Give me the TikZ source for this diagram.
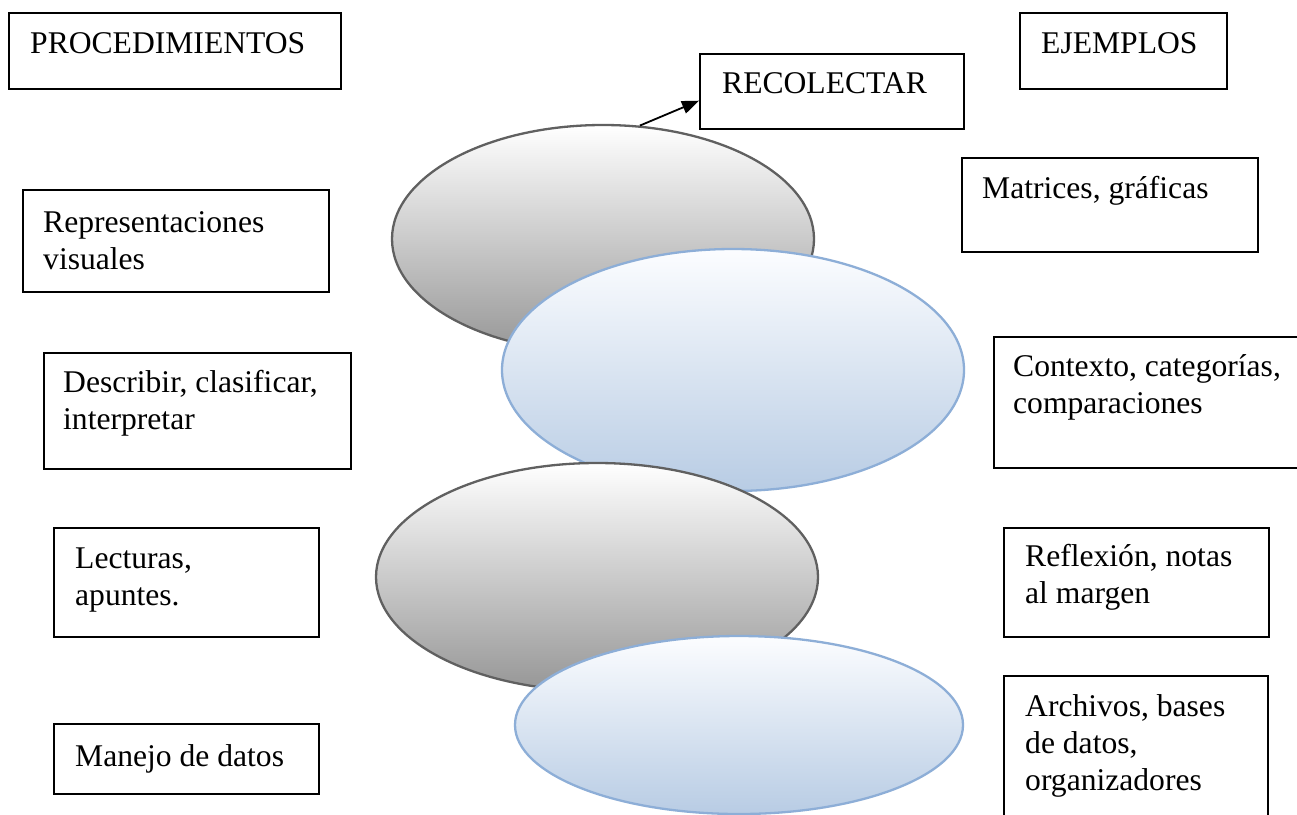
\documentclass[tikz,border=0pt]{standalone}
\usepackage{fontspec}
\setmainfont{Liberation Serif}
\usetikzlibrary{shapes.geometric,arrows.meta}
\definecolor{grayline}{RGB}{96,96,96}
\definecolor{graybot}{RGB}{150,150,150}
\definecolor{blueline}{RGB}{141,174,215}
\definecolor{bluebot}{RGB}{184,204,228}
\definecolor{bluetop}{RGB}{252,253,255}
\tikzset{
  box/.style={draw=black, line width=1.8pt, rectangle, inner sep=0pt, anchor=north west},
  txt/.style={anchor=base west, inner sep=0pt, font=\fontsize{31.6}{37}\selectfont},
  grayell/.style={ellipse, draw=grayline, line width=2.3pt, inner sep=0pt, top color=white, bottom color=graybot},
  blueell/.style={ellipse, draw=blueline, line width=2.3pt, inner sep=0pt, top color=bluetop, bottom color=bluebot},
  conn/.style={draw=black, line width=1.8pt, -{Triangle[length=17pt,width=13pt]}}
}
\newcommand{\lines}[1]{\begin{tabular}[t]{@{}l@{}}#1\end{tabular}}
\begin{document}
\begin{tikzpicture}[x=1pt,y=-1pt]
\clip (0,0) rectangle (1297,814);
\fill[white] (0,0) rectangle (1297,814);
% header boxes
\node[box, minimum width=332pt, minimum height=76pt] (proc) at (8,12) {};
\node[txt] (proct) at (30,53) {PROCEDIMIENTOS};
\node[box, minimum width=264pt, minimum height=75pt] (rec) at (699,53) {};
\node[txt] (rect) at (722,93) {RECOLECTAR};
\node[box, minimum width=207pt, minimum height=76pt] (ejem) at (1019,12) {};
\node[txt] (ejemt) at (1041,53) {EJEMPLOS};
% left column
\node[box, minimum width=306pt, minimum height=102pt] (repr) at (22,189) {};
\node[txt] (reprt) at (43,232) {\lines{Representaciones\\visuales}};
\node[box, minimum width=307pt, minimum height=116pt] (desc) at (43,352) {};
\node[txt] (desct) at (63,392) {\lines{Describir, clasificar,\\interpretar}};
\node[box, minimum width=265pt, minimum height=109pt] (lect) at (53,527) {};
\node[txt] (lectt) at (75,568) {\lines{Lecturas,\\apuntes.}};
\node[box, minimum width=265pt, minimum height=70pt] (mane) at (53,723) {};
\node[txt] (manet) at (75,766) {Manejo de datos};
% right column
\node[box, minimum width=296pt, minimum height=94pt] (matr) at (961,157) {};
\node[txt] (matrt) at (982,198) {Matrices, gráficas};
\node[box, minimum width=312pt, minimum height=131pt] (cont) at (993,336) {};
\node[txt] (contt) at (1013,376) {\lines{Contexto, categorías,\\comparaciones}};
\node[box, minimum width=265pt, minimum height=109pt] (refl) at (1003,527) {};
\node[txt] (reflt) at (1025,566) {\lines{Reflexión, notas\\al margen}};
\node[box, minimum width=264pt, minimum height=160pt] (arch) at (1003,675) {};
\node[txt] (archt) at (1025,716) {\lines{Archivos, bases\\de datos,\\organizadores}};
% ellipses
\node[grayell, minimum width=422pt, minimum height=228pt] (g1) at (603,239) {};
\node[blueell, minimum width=462pt, minimum height=242pt] (b1) at (733,370) {};
\node[grayell, minimum width=442pt, minimum height=228pt] (g2) at (597,577) {};
\node[blueell, minimum width=448pt, minimum height=178pt] (b2) at (739,725) {};
% connector
\draw[conn] (g1.72) -- (rec.184.5);
\end{tikzpicture}
\end{document}
